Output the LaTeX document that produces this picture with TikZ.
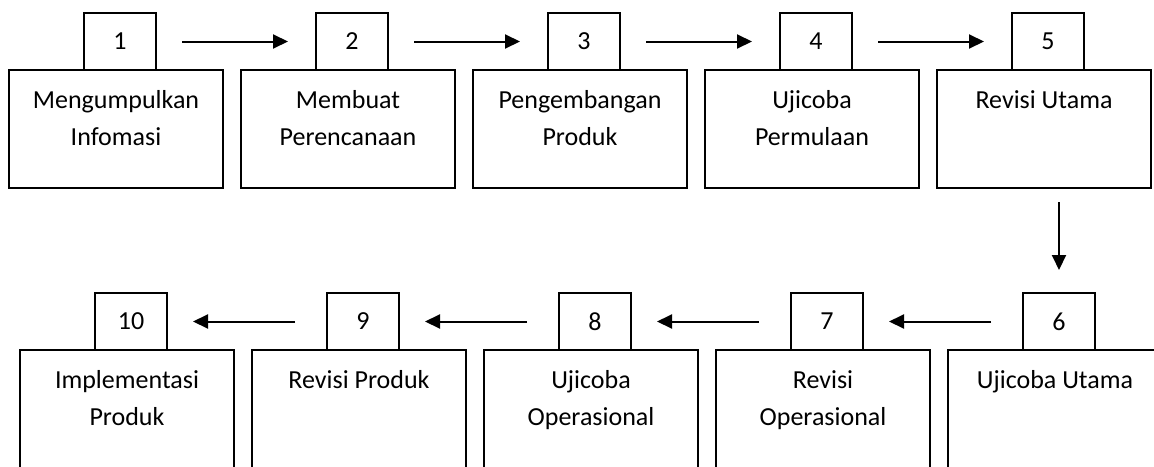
\documentclass[tikz,border=0pt]{standalone}
\usepackage{fontspec}
\setmainfont{Carlito}
\usetikzlibrary{arrows.meta,positioning}

\begin{document}
\begin{tikzpicture}[x=1pt,y=-1pt,node distance=18pt,
    every node/.style={font=\fontsize{26}{37}\selectfont},
    bigbox/.style={draw,line width=2pt,outer sep=0pt,minimum width=214pt,minimum height=118pt},
    numbox/.style={draw,line width=2pt,outer sep=0pt,minimum width=72pt,minimum height=57pt,inner sep=0pt},
    steptext/.style={align=center,inner sep=0pt},
    flow/.style={line width=2pt,-{Triangle[length=15pt,width=14pt]}},
    topflow/.style={flow,shorten <=26pt,shorten >=28pt},
    botflow/.style={flow,shorten <=32pt,shorten >=26pt}]
  \useasboundingbox (0,0) rectangle (1154,466);
  \clip (0,0) rectangle (1154,466);

  % top row, left to right
  \node[bigbox] (m1) at (116,129) {};
  \node[bigbox,right=of m1] (m2) {};
  \node[bigbox,right=of m2] (m3) {};
  \node[bigbox,right=of m3] (m4) {};
  \node[bigbox,right=of m4] (m5) {};

  % bottom row, right to left
  \node[bigbox] (m6) at (1055,409) {};
  \node[bigbox,left=of m6] (m7) {};
  \node[bigbox,left=of m7] (m8) {};
  \node[bigbox,left=of m8] (m9) {};
  \node[bigbox,left=of m9] (m10) {};

  % number boxes on top of each step
  \foreach \i in {1,...,10}
    \node[numbox,above=0pt of m\i,xshift=4pt] (n\i) {\i};

  % step names
  \node[steptext,below=20pt of m1.north] (t1) {Mengumpulkan\\Infomasi};
  \node[steptext,below=20pt of m2.north] (t2) {Membuat\\Perencanaan};
  \node[steptext,below=20pt of m3.north] (t3) {Pengembangan\\Produk};
  \node[steptext,below=20pt of m4.north] (t4) {Ujicoba\\Permulaan};
  \node[steptext,below=20pt of m5.north] (t5) {Revisi Utama};
  \node[steptext,below=20pt of m6.north] (t6) {Ujicoba Utama};
  \node[steptext,below=20pt of m7.north] (t7) {Revisi\\Operasional};
  \node[steptext,below=20pt of m8.north] (t8) {Ujicoba\\Operasional};
  \node[steptext,below=20pt of m9.north] (t9) {Revisi Produk};
  \node[steptext,below=20pt of m10.north] (t10) {Implementasi\\Produk};

  % arrows
  \foreach \a/\b in {1/2,2/3,3/4,4/5}
    \draw[topflow] (n\a) -- (n\b);
  \draw[flow,shorten <=14pt,shorten >=23pt] (n6.north |- m5.south) -- (n6.north);
  \foreach \a/\b in {6/7,7/8,8/9,9/10}
    \draw[botflow] (n\a) -- (n\b);
\end{tikzpicture}
\end{document}
